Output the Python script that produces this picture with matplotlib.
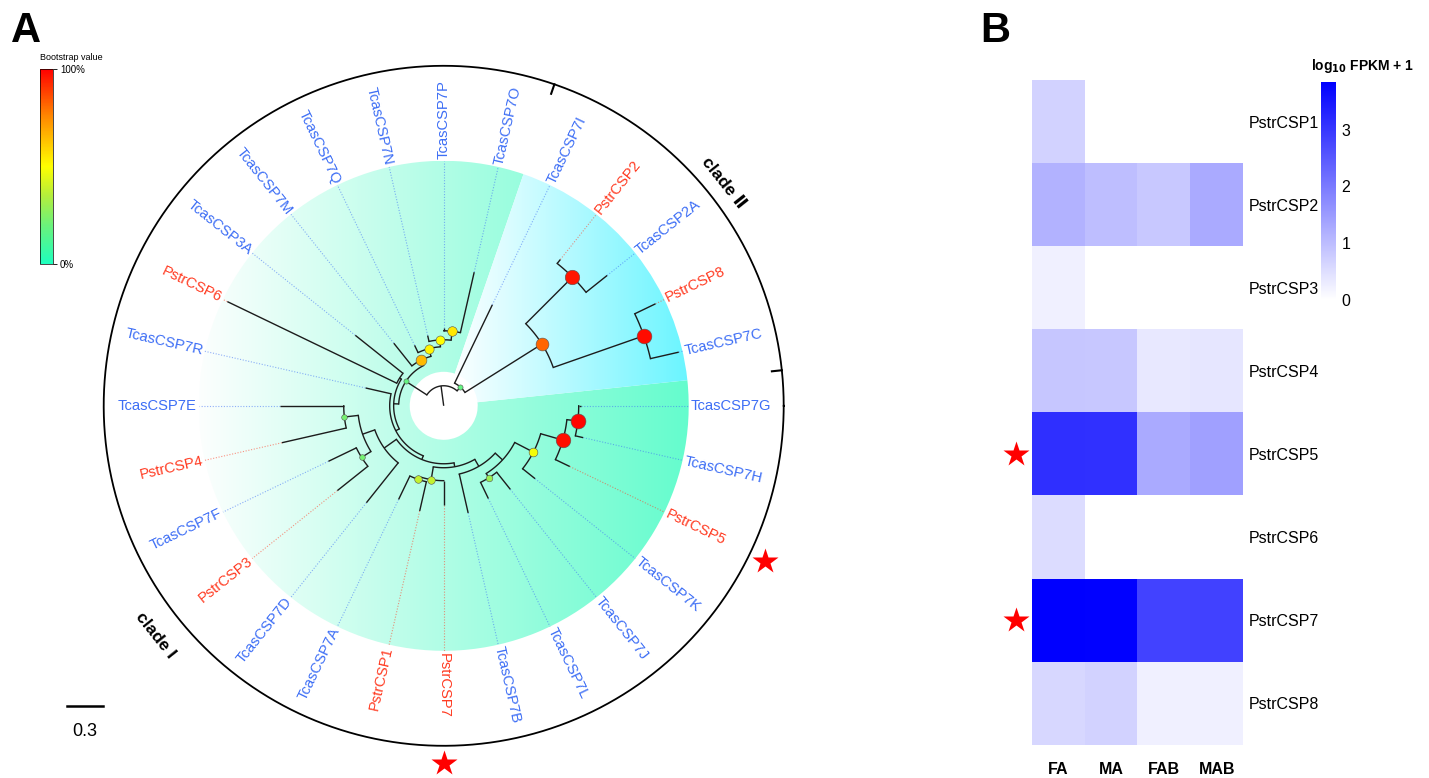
import matplotlib
matplotlib.use("Agg")
import matplotlib.pyplot as plt
import numpy as np
from matplotlib.colors import LinearSegmentedColormap, Normalize
from matplotlib.cm import ScalarMappable
from matplotlib.patches import Wedge

plt.rcParams["font.family"] = ["Liberation Sans", "DejaVu Sans"]

# ---------------- data ----------------
# CSP phylogeny: branch lengths (subst./site), internal labels = bootstrap (%)
# children are listed anticlockwise, starting next to TcasCSP7G
TREE = (
    "("
    "(((TcasCSP7C:0.242,PstrCSP8:0.192)98:0.80,(TcasCSP2A:0.225,PstrCSP2:0.042)96:0.55)82:0.758,"
    "TcasCSP7I:0.725)18:0.042,"
    "("
    "((((TcasCSP7O:0.517,TcasCSP7P:0.025)55:0.075,TcasCSP7N:0.05)50:0.058,TcasCSP7Q:0.067)52:0.067,"
    "TcasCSP7M:0.242)65:0.05,"
    "("
    "(TcasCSP3A:0.508,PstrCSP6:1.567):0.017,"
    "(TcasCSP7R:0.217,"
    "("
    "(((TcasCSP7E:0.533,PstrCSP4:0.55)22:0.117,(TcasCSP7F:0.258,PstrCSP3:0.325)22:0.092):0.108,"
    "TcasCSP7D:0.425):0.125,"
    "("
    "((TcasCSP7A:0.217,PstrCSP1:0.25)38:0.025,PstrCSP7:0.2)38:0.108,"
    "(TcasCSP7B:0.333,"
    "((TcasCSP7L:0.15,TcasCSP7J:0.183)30:0.042,"
    "(TcasCSP7K:0.133,(PstrCSP5:0.133,(TcasCSP7H:0.067,TcasCSP7G:0.017)99:0.092)97:0.192)48:0.175"
    "):0.083"
    "):0.067"
    "):0.033"
    "):0.033"
    "):0.033"
    "):0.042"
    ")18:0.208"
    "):0.167;"
)
CLADE_II_SPAN = [6.0, 71.0]       # degrees
STARRED = ["PstrCSP5", "PstrCSP7"]

GENES = ["PstrCSP1", "PstrCSP2", "PstrCSP3", "PstrCSP4",
         "PstrCSP5", "PstrCSP6", "PstrCSP7", "PstrCSP8"]
TISSUES = ["FA", "MA", "FAB", "MAB"]
EXPR = [
    [0.68, 0.00, 0.00, 0.00],
    [1.16, 0.98, 0.83, 1.28],
    [0.23, 0.00, 0.00, 0.00],
    [0.86, 0.84, 0.35, 0.38],
    [3.12, 3.09, 1.28, 1.43],
    [0.53, 0.00, 0.00, 0.00],
    [3.84, 3.80, 2.82, 2.86],
    [0.60, 0.68, 0.23, 0.23],
]
EXPR_MAX = 3.84

RED = "#ff3b22"
BLUE = "#3d6ef5"


def parse_newick(s):
    pos = 0

    def node():
        nonlocal pos
        n = {"children": [], "name": "", "len": 0.0, "support": None}
        if s[pos] == "(":
            pos += 1
            n["children"].append(node())
            while s[pos] == ",":
                pos += 1
                n["children"].append(node())
            pos += 1
        start = pos
        while s[pos] not in ":,();":
            pos += 1
        label = s[start:pos]
        if s[pos] == ":":
            pos += 1
            start = pos
            while s[pos] not in ",();":
                pos += 1
            n["len"] = float(s[start:pos])
        if n["children"]:
            n["support"] = float(label) if label else None
        else:
            n["name"] = label
        return n

    return node()


root = parse_newick(TREE)
leaves = []


def count(n):
    return 1 if not n["children"] else sum(count(c) for c in n["children"])


N_LEAF = count(root)


def layout(n, depth):
    n["d"] = depth + n["len"]
    if not n["children"]:
        leaves.append(n)
        n["ang"] = len(leaves) * 360.0 / N_LEAF
    else:
        for c in n["children"]:
            layout(c, n["d"])
        n["ang"] = 0.5 * (n["children"][0]["ang"] + n["children"][-1]["ang"])


layout(root, 0.0)

# ---------------- figure ----------------
W, H = 1429, 778
fig = plt.figure(figsize=(W / 100, H / 100), dpi=100)
ax = fig.add_axes([0, 0, 1, 1])

CX, CY = 443.7, H - 405.8
PX = 120.0            # pixels per unit branch length
R_TIP = 245.0
R_HOLE = 34.0
R_RING = 340.0


def pt(r, a):
    t = np.deg2rad(a)
    return CX + r * np.cos(t), CY + r * np.sin(t)


def grad_wedge(t1, t2, color, xa, xb):
    w = Wedge((CX, CY), R_TIP, t1, t2, width=R_TIP - R_HOLE,
              facecolor="none", edgecolor="none")
    ax.add_patch(w)
    xs = np.linspace(CX - R_TIP, CX + R_TIP, 600)
    t = np.clip((xs - xa) / (xb - xa), 0, 1)[:, None]
    c = np.array(matplotlib.colors.to_rgb(color))
    rgb = (1 - t) * np.ones(3) + t * c
    img = np.repeat(rgb[None, :, :], 2, axis=0)
    im = ax.imshow(img, extent=(CX - R_TIP, CX + R_TIP, CY - R_TIP, CY + R_TIP),
                   origin="lower", aspect="auto", zorder=0, interpolation="bilinear")
    im.set_clip_path(w)


grad_wedge(CLADE_II_SPAN[1], CLADE_II_SPAN[0] + 360, "#64fccd", 190, 690)
grad_wedge(CLADE_II_SPAN[0], CLADE_II_SPAN[1], "#69f5ff", 450, 690)

boot_cmap = LinearSegmentedColormap.from_list(
    "boot", [(0.0, "#1effbe"), (0.2, "#6cf27a"), (0.35, "#b4ee3c"),
             (0.5, "#ffff00"), (0.75, "#ff8c00"), (1.0, "#ff0000")])

LW = 1.0
LC = "#1c1c1c"
dots = []


def draw(n, parent_d):
    r0, r1 = parent_d * PX, n["d"] * PX
    x0, y0 = pt(r0, n["ang"])
    x1, y1 = pt(r1, n["ang"])
    ax.plot([x0, x1], [y0, y1], color=LC, lw=LW, zorder=3, solid_capstyle="butt")
    if n["children"]:
        a0, a1 = n["children"][0]["ang"], n["children"][-1]["ang"]
        aa = np.linspace(a0, a1, 80)
        xs, ys = pt(r1, aa)
        ax.plot(xs, ys, color=LC, lw=LW, zorder=3)
        if n["support"] is not None:
            dots.append((x1, y1, n["support"]))
        for c in n["children"]:
            draw(c, n["d"])
    else:
        col = RED if n["name"].startswith("Pstr") else BLUE
        if r1 < R_TIP:
            xe, ye = pt(R_TIP, n["ang"])
            ax.plot([x1, xe], [y1, ye], color=col, lw=0.8, alpha=0.55,
                    ls=(0, (1, 1.5)), zorder=2)
        a = n["ang"] % 360
        xl, yl = pt(R_TIP + 2, a)
        if np.cos(np.deg2rad(a)) < -1e-6:
            rot, ha = a - 180, "right"
        else:
            rot, ha = (a if a <= 90 else a - 360), "left"
        ax.text(xl, yl, n["name"], color=col, fontsize=10.6, rotation=rot,
                rotation_mode="anchor", ha=ha, va="center", zorder=4)
        if n["name"] in STARRED:
            xs_, ys_ = pt(357, a)
            ax.plot(xs_, ys_, marker="*", color="red", ms=19, mec="none", zorder=4)


draw(root, 0.0)

for x, y, s in dots:
    rad = 1.5 + 6.0 * s / 100
    ax.scatter([x], [y], s=(2 * rad / 1.389) ** 2, color=boot_cmap(s / 100),
               edgecolor="#555555", linewidth=0.4, zorder=5)

# outer ring with clade boundary ticks
aa = np.linspace(0, 360, 720)
xs, ys = pt(R_RING, aa)
ax.plot(xs, ys, color="black", lw=1.3, zorder=3)
for a in CLADE_II_SPAN:
    x0, y0 = pt(R_RING - 10, a)
    x1, y1 = pt(R_RING, a)
    ax.plot([x0, x1], [y0, y1], color="black", lw=1.5, zorder=3)

mid2 = 0.5 * (CLADE_II_SPAN[0] + CLADE_II_SPAN[1])
x, y = pt(358, mid2)
ax.text(x, y, "clade \u2161", fontsize=12.5, fontweight="bold", rotation=mid2 - 90,
        ha="center", va="center", family=["Liberation Sans", "DejaVu Sans"])
mid1 = 0.5 * (CLADE_II_SPAN[1] + CLADE_II_SPAN[0] + 360)
x, y = pt(368, mid1)
ax.text(x, y, "clade I", fontsize=12.5, fontweight="bold", rotation=mid1 - 270,
        ha="center", va="center")

# scale bar
ax.plot([67, 67 + 0.3 * PX], [H - 706, H - 706], color="black", lw=1.8)
ax.text(67 + 0.15 * PX, H - 731, "0.3", fontsize=13, ha="center", va="center")

ax.text(26, H - 31, "A", fontsize=30, fontweight="bold", ha="center", va="center")
ax.text(995, H - 31, "B", fontsize=30, fontweight="bold", ha="center", va="center")

ax.set_xlim(0, W)
ax.set_ylim(0, H)
ax.axis("off")

# bootstrap colour bar
cax1 = fig.add_axes([40 / W, 1 - 264 / H, 13 / W, 195 / H])
cb1 = fig.colorbar(ScalarMappable(Normalize(0, 100), boot_cmap), cax=cax1)
cb1.set_ticks([0, 100])
cb1.set_ticklabels(["0%", "100%"])
cb1.ax.tick_params(labelsize=7, length=3, width=0.6, pad=2)
cb1.outline.set_linewidth(0.5)
fig.text(40 / W, 1 - 57 / H, "Bootstrap value", fontsize=6.5, ha="left", va="center")

# ---------------- panel B: heatmap ----------------
heat_cmap = LinearSegmentedColormap.from_list("wb", ["#ffffff", "#0000ff"])
hax = fig.add_axes([1032 / W, 1 - 745 / H, 211 / W, 665 / H])
im = hax.imshow(np.array(EXPR), cmap=heat_cmap, vmin=0, vmax=EXPR_MAX, aspect="auto")
hax.set_xticks(range(len(TISSUES)))
hax.set_xticklabels(TISSUES, fontsize=11.5, fontweight="bold")
hax.set_yticks(range(len(GENES)))
hax.set_yticklabels(GENES, fontsize=11.5)
hax.yaxis.tick_right()
hax.tick_params(length=0)
hax.tick_params(axis="x", pad=12)
hax.tick_params(axis="y", pad=4)
for sp in hax.spines.values():
    sp.set_visible(False)
for g in STARRED:
    hax.plot(-0.8, GENES.index(g), marker="*", color="red", ms=19, mec="none",
             clip_on=False)
hax.set_xlim(-0.5, len(TISSUES) - 0.5)
hax.set_ylim(len(GENES) - 0.5, -0.5)

cax2 = fig.add_axes([1321 / W, 1 - 300 / H, 15 / W, 218 / H])
cb2 = fig.colorbar(im, cax=cax2)
cb2.set_ticks([0, 1, 2, 3])
cb2.ax.tick_params(labelsize=11.5, length=0, pad=4)
cb2.outline.set_visible(False)
fig.text(1363 / W, 1 - 66 / H, r"log$_{\mathbf{10}}$ FPKM + 1", fontsize=10,
         fontweight="bold", ha="center", va="center")

fig.savefig("out.png", dpi=100)
